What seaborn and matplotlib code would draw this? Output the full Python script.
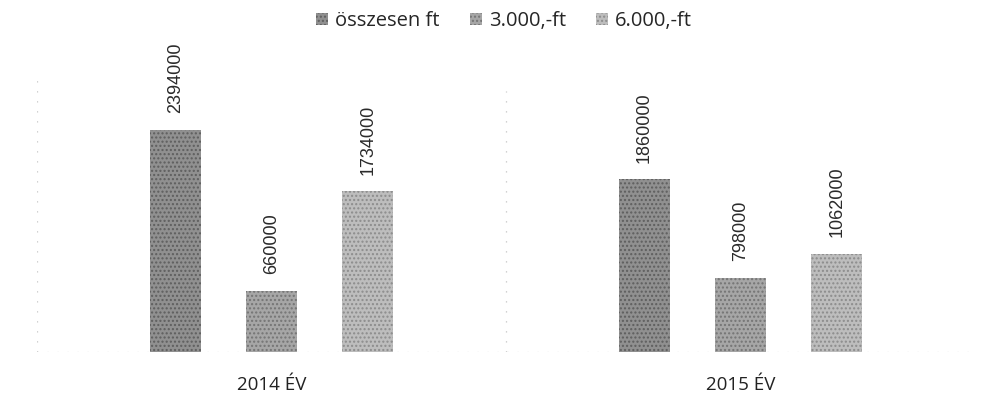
import matplotlib
matplotlib.use("Agg")
import matplotlib.pyplot as plt
from matplotlib.patches import Patch
import seaborn as sns
import pandas as pd

# Amounts per year, split by ticket price
years = ["2014 ÉV", "2015 ÉV"]
series = ["összesen ft", "3.000,-ft", "6.000,-ft"]
total_ft = [2394000, 1860000]
ft_3000 = [660000, 798000]
ft_6000 = [1734000, 1062000]

colors = ["#909090", "#a6a6a6", "#bdbdbd"]
hatch_colors = ["#5e5e5e", "#747474", "#8c8c8c"]

df = pd.DataFrame({
    "year": years * 3,
    "series": [s for s in series for _ in years],
    "value": total_ft + ft_3000 + ft_6000,
})

sns.set_theme(style="white")
plt.rcParams["font.family"] = ["Liberation Sans", "DejaVu Sans"]

fig = plt.figure(figsize=(9.92, 4.01), dpi=100)
ax = fig.add_axes([37 / 992, 1 - 352 / 401, (975 - 37) / 992, (352 - 45) / 401])

sns.barplot(data=df, x="year", y="value", hue="series", order=years,
            hue_order=series, palette=colors, width=0.615, gap=0.468,
            saturation=1, ax=ax, legend=False)

# grainy print texture on bars, value labels above
for i, cont in enumerate(ax.containers):
    for bar in cont:
        bar.set_hatch("....")
        bar.set_edgecolor(hatch_colors[i])
        bar.set_linewidth(0)
    ax.bar_label(cont, labels=[str(int(v)) for v in cont.datavalues],
                 rotation=90, padding=12, fontsize=13, color="#2a2a2a",
                 family=["Liberation Sans"])

ax.set_xlim(-0.5, 1.5)
ax.set_ylim(0, 3310000)
ax.set_xlabel("")
ax.set_ylabel("")
ax.set_yticks([])
ax.tick_params(axis="x", length=0, pad=17)
for lab in ax.get_xticklabels():
    lab.set_fontfamily(["Open Sans", "DejaVu Sans"])
    lab.set_fontsize(13.5)
    lab.set_color("#222222")

for s in ax.spines.values():
    s.set_visible(False)

# faint dotted axis remnants
dot = dict(color="#c4c4c4", lw=0.9, linestyle=(0, (1, 7)))
ax.axhline(0, **dot)
ax.axvline(-0.5, ymax=0.9, **dot)
ax.axvline(0.5, ymin=0.0, ymax=0.85, **dot)

handles = [Patch(facecolor=c, edgecolor=h, hatch="....", linewidth=0)
           for c, h in zip(colors, hatch_colors)]
fig.legend(handles, series, loc="center", bbox_to_anchor=(504 / 992, 1 - 21 / 401),
           ncol=3, frameon=False, handlelength=0.6, handleheight=0.6,
           handletextpad=0.35, columnspacing=1.5,
           prop={"family": ["Open Sans", "DejaVu Sans"], "size": 14.5})

fig.savefig("out.png", dpi=100, facecolor="white")
